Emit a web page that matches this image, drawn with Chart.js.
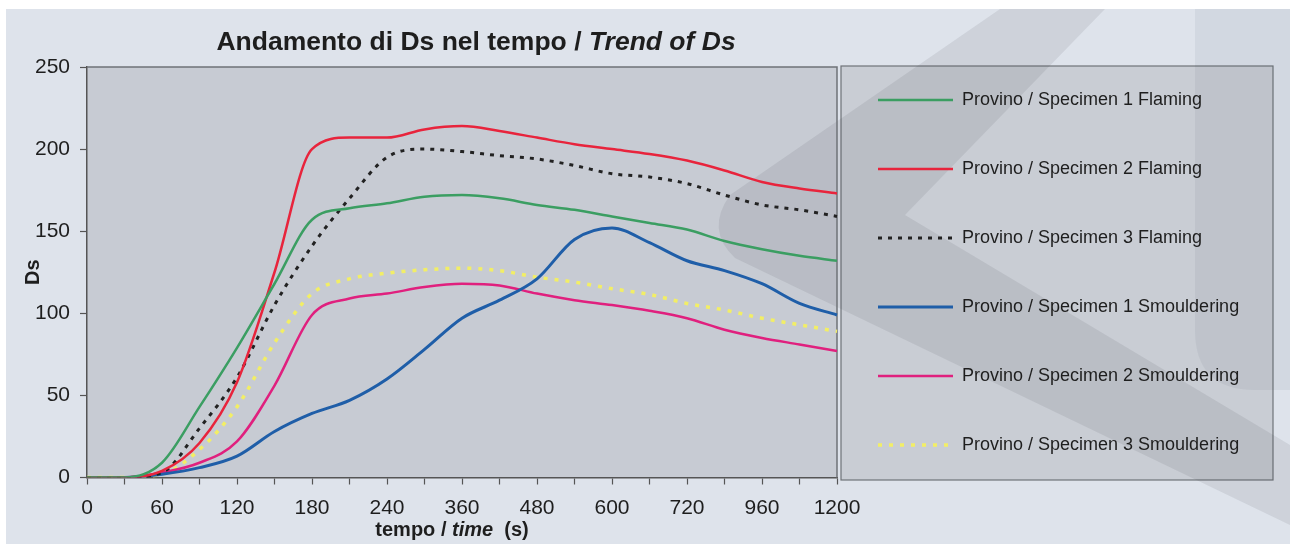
<!DOCTYPE html>
<html>
<head>
<meta charset="utf-8">
<script src="https://cdn.jsdelivr.net/npm/chart.js@4.4.0/dist/chart.umd.min.js"></script>
<style>
  html, body { margin: 0; padding: 0; background: #fff; }
  #wrap { width: 1290px; height: 553px; position: relative; }
</style>
</head>
<body>
<div id="wrap"><canvas id="ds-chart"></canvas></div>
<script>
// tempo (s): categorie dell'asse X, etichette solo su alcune
const times = [0, 30, 60, 90, 120, 150, 180, 210, 240, 300, 360, 420, 480, 540, 600, 660, 720, 840, 960, 1080, 1200];
const shownTimes = [0, 60, 120, 180, 240, 360, 480, 600, 720, 960, 1200];
const yTicks = [0, 50, 100, 150, 200, 250];

// Ds per provino
const flaming1 = [0, 0, 9, 43, 79, 118, 157, 164, 167, 171, 172, 170, 166, 163, 159, 155, 151, 144, 139, 135, 132];
const flaming2 = [0, 0, 4, 21, 58, 125, 200, 207, 207, 212, 214, 211, 207, 203, 200, 197, 193, 187, 180, 176, 173];
const flaming3 = [0, 0, 3, 30, 61, 105, 141, 170, 195, 200, 198.5, 196, 194, 190, 185, 183, 179, 172, 166, 163, 159];
const smoulder1 = [0, 0, 2, 6, 13, 28, 39, 47, 60, 78, 97, 108, 121, 145, 152, 143, 132, 126, 118, 106, 99];
const smoulder2 = [0, 0, 3, 9, 22, 56, 99, 109, 112, 116, 118, 117, 112, 108, 105, 101.5, 97, 90, 85, 81, 77];
const smoulder3 = [0, 0, 2, 17, 43, 82, 112, 121, 124.5, 126.5, 127.5, 126, 122, 119, 115, 111.5, 106, 102, 97, 93, 89];

const FONT = "'Liberation Sans', Arial, sans-serif";
const TEXT = '#1e1e1e';

function line(label, data, color, width, dash) {
    return {
        label: label,
        data: data,
        borderColor: color,
        backgroundColor: color,
        borderWidth: width,
        borderDash: dash || [],
        pointRadius: 0,
        cubicInterpolationMode: 'monotone',
        fill: false
    };
}

function drawMixed(ctx, parts, cx, y) {
    let total = 0;
    parts.forEach(function (p) {
        ctx.font = p.font;
        p.w = ctx.measureText(p.text).width;
        total += p.w;
    });
    let x = cx - total / 2;
    parts.forEach(function (p) {
        ctx.font = p.font;
        ctx.fillText(p.text, x, y);
        x += p.w;
    });
}

// sfondo, area del grafico, riquadro legenda e filigrana
const backdrop = {
    id: 'backdrop',
    afterLayout(chart) {
        // sposta la legenda dentro il suo riquadro
        const a = chart.chartArea;
        const lg = chart.legend;
        lg.left = a.right - 10;
        lg.right = chart.width;
        lg.top = 38;
        lg.bottom = 507;
    },
    beforeDraw(chart) {
        const ctx = chart.ctx;
        const a = chart.chartArea;
        ctx.save();
        ctx.fillStyle = '#ffffff';
        ctx.fillRect(0, 0, chart.width, chart.height);
        ctx.fillStyle = '#dee3eb';
        ctx.fillRect(6, 9, chart.width - 6, chart.height - 18);

        ctx.fillStyle = '#c7cbd3';
        ctx.fillRect(a.left, a.top, a.right - a.left, a.bottom - a.top);

        const bx = a.right + 4, by = a.top - 1, bw = 1273 - bx, bh = a.bottom + 2.5 - by;
        ctx.fillStyle = '#c9cdd4';
        ctx.fillRect(bx, by, bw, bh);
        ctx.strokeStyle = '#6f7378';
        ctx.lineWidth = 1.2;
        ctx.strokeRect(bx, by, bw, bh);

        // filigrana
        ctx.fillStyle = 'rgba(40,45,60,0.09)';
        ctx.beginPath();
        ctx.moveTo(1000, 9);
        ctx.lineTo(1105, 9);
        ctx.lineTo(905, 215);
        ctx.lineTo(1290, 445);
        ctx.lineTo(1290, 525);
        ctx.lineTo(735, 258);
        ctx.quadraticCurveTo(705, 230, 730, 195);
        ctx.closePath();
        ctx.fill();

        ctx.fillStyle = 'rgba(40,45,60,0.06)';
        ctx.beginPath();
        ctx.moveTo(1195, 9);
        ctx.lineTo(1290, 9);
        ctx.lineTo(1290, 390);
        ctx.lineTo(1255, 390);
        ctx.quadraticCurveTo(1195, 390, 1195, 330);
        ctx.closePath();
        ctx.fill();
        ctx.restore();
    },
    beforeDatasetsDraw(chart) {
        const ctx = chart.ctx;
        const a = chart.chartArea;
        ctx.save();
        ctx.strokeStyle = '#6f7378';
        ctx.lineWidth = 1.5;
        ctx.beginPath();
        ctx.moveTo(a.left, a.top);
        ctx.lineTo(a.right, a.top);
        ctx.lineTo(a.right, a.bottom);
        ctx.stroke();
        ctx.restore();
    },
    afterDraw(chart) {
        const ctx = chart.ctx;
        ctx.save();
        ctx.fillStyle = TEXT;
        ctx.textBaseline = 'alphabetic';
        drawMixed(ctx, [
            { text: 'Andamento di Ds nel tempo / ', font: 'bold 26.5px ' + FONT },
            { text: 'Trend of Ds', font: 'italic bold 26.5px ' + FONT }
        ], 476, 50);
        drawMixed(ctx, [
            { text: 'tempo / ', font: 'bold 20px ' + FONT },
            { text: 'time', font: 'italic bold 20px ' + FONT },
            { text: '  (s)', font: 'bold 20px ' + FONT }
        ], 452, 536);
        ctx.restore();
    }
};

new Chart(document.getElementById('ds-chart'), {
    type: 'line',
    data: {
        labels: times,
        datasets: [
            line('Provino / Specimen 1 Flaming', flaming1, '#3b9e62', 2.5),
            line('Provino / Specimen 2 Flaming', flaming2, '#e8243c', 2.5),
            line('Provino / Specimen 3 Flaming', flaming3, '#222222', 3, [4, 6]),
            line('Provino / Specimen 1 Smouldering', smoulder1, '#1f5ea8', 3),
            line('Provino / Specimen 2 Smouldering', smoulder2, '#e0207e', 2.5),
            line('Provino / Specimen 3 Smouldering', smoulder3, '#f2ee66', 3.5, [4, 7])
        ]
    },
    options: {
        responsive: true,
        maintainAspectRatio: false,
        animation: false,
        layout: {
            padding: { top: 67, left: 0, right: 73, bottom: 0 }
        },
        scales: {
            x: {
                offset: false,
                afterFit: function (scale) {
                    // spazio per il titolo dell'asse disegnato a mano
                    scale.height = 75.5;
                },
                border: { color: '#555', width: 1.5 },
                grid: { drawOnChartArea: false, tickLength: 7, tickColor: '#555', tickWidth: 1.2 },
                ticks: {
                    autoSkip: false,
                    maxRotation: 0,
                    padding: 11,
                    color: TEXT,
                    font: { family: FONT, size: 21 },
                    callback: function (value, index) {
                        return shownTimes.includes(times[index]) ? String(times[index]) : '';
                    }
                }
            },
            y: {
                min: 0,
                max: 250,
                afterBuildTicks: function (axis) {
                    axis.ticks = yTicks.map(function (v) { return { value: v }; });
                },
                afterFit: function (scale) {
                    scale.width = 87;
                },
                border: { color: '#555', width: 1.5 },
                grid: { drawOnChartArea: false, tickLength: 7, tickColor: '#555', tickWidth: 1.2 },
                ticks: {
                    padding: 10,
                    color: TEXT,
                    font: { family: FONT, size: 21 }
                },
                title: {
                    display: true,
                    text: 'Ds',
                    color: TEXT,
                    padding: { top: 21, bottom: 0 },
                    font: { family: FONT, size: 20, weight: 'bold' }
                }
            }
        },
        plugins: {
            tooltip: { enabled: false },
            legend: {
                position: 'right',
                align: 'center',
                maxWidth: 380,
                labels: {
                    usePointStyle: true,
                    pointStyle: 'line',
                    pointStyleWidth: 75,
                    padding: 51,
                    color: TEXT,
                    font: { family: FONT, size: 18 },
                    generateLabels: function (chart) {
                        const items = Chart.defaults.plugins.legend.labels.generateLabels(chart);
                        items.forEach(function (item) {
                            const ds = chart.data.datasets[item.datasetIndex];
                            item.lineWidth = ds.borderWidth;
                            item.lineDash = ds.borderDash;
                            item.strokeStyle = ds.borderColor;
                        });
                        return items;
                    }
                }
            }
        }
    },
    plugins: [backdrop]
});
</script>
</body>
</html>
